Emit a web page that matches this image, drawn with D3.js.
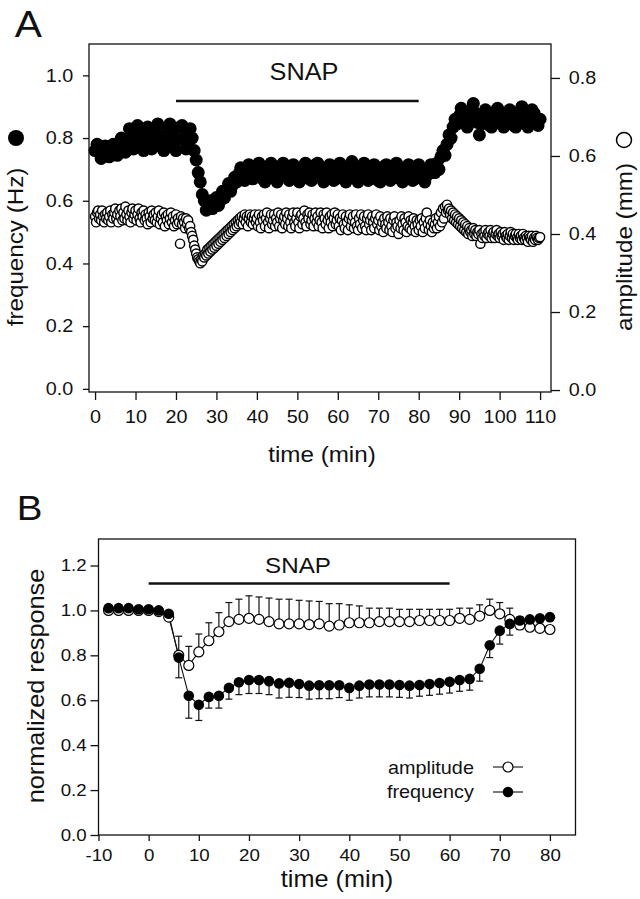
<!DOCTYPE html>
<html>
<head>
<meta charset="utf-8">
<script src="https://cdn.jsdelivr.net/npm/d3@7"></script>
<style>
    body { margin: 0; background: #fff; }
    svg text {
        font-family: "Liberation Sans", Arial, Helvetica, sans-serif;
        fill: #111;
        transform-box: fill-box;
        transform-origin: center;
        transform: scaleX(1.1);
    }
</style>
</head>
<body>
<script>
// ---- panel A: raw recording ----
// frequency read every half minute, amplitude every quarter minute
const stepFreqA = 0.5;
const freqA = [
    0.76, 0.78, 0.755, 0.735, 0.75, 0.775, 0.76, 0.74, 0.755, 0.78,
    0.765, 0.745, 0.77, 0.80, 0.78, 0.755, 0.79, 0.83, 0.80, 0.765,
    0.80, 0.84, 0.815, 0.775, 0.76, 0.795, 0.835, 0.80, 0.765, 0.785,
    0.82, 0.845, 0.805, 0.77, 0.76, 0.79, 0.83, 0.845, 0.81, 0.77,
    0.76, 0.795, 0.835, 0.84, 0.80, 0.765, 0.79, 0.83, 0.80, 0.76,
    0.73, 0.69, 0.66, 0.62, 0.60, 0.57, 0.585, 0.60, 0.575, 0.595,
    0.61, 0.585, 0.60, 0.63, 0.61, 0.635, 0.655, 0.63, 0.65, 0.675,
    0.66, 0.685, 0.705, 0.68, 0.665, 0.69, 0.715, 0.695, 0.67, 0.685,
    0.71, 0.72, 0.695, 0.67, 0.66, 0.685, 0.71, 0.72, 0.70, 0.675,
    0.66, 0.68, 0.705, 0.72, 0.70, 0.675, 0.665, 0.69, 0.715, 0.70,
    0.67, 0.66, 0.685, 0.71, 0.72, 0.695, 0.67, 0.665, 0.69, 0.715,
    0.72, 0.70, 0.675, 0.66, 0.68, 0.705, 0.715, 0.69, 0.665, 0.67,
    0.695, 0.72, 0.71, 0.68, 0.66, 0.675, 0.70, 0.725, 0.705, 0.675,
    0.66, 0.685, 0.71, 0.72, 0.695, 0.665, 0.67, 0.70, 0.715, 0.69,
    0.665, 0.66, 0.685, 0.71, 0.715, 0.69, 0.665, 0.675, 0.70, 0.72,
    0.70, 0.67, 0.66, 0.68, 0.705, 0.715, 0.69, 0.665, 0.67, 0.695,
    0.715, 0.70, 0.675, 0.66, 0.68, 0.705, 0.715, 0.69, 0.69, 0.72,
    0.70, 0.74, 0.76, 0.745, 0.78, 0.81, 0.80, 0.835, 0.86, 0.845,
    0.87, 0.895, 0.88, 0.85, 0.835, 0.86, 0.89, 0.91, 0.88, 0.85,
    0.81, 0.845, 0.875, 0.89, 0.87, 0.84, 0.835, 0.86, 0.885, 0.895,
    0.87, 0.845, 0.835, 0.855, 0.88, 0.89, 0.865, 0.84, 0.835, 0.86,
    0.885, 0.90, 0.875, 0.845, 0.835, 0.86, 0.89, 0.88, 0.85, 0.84,
    0.86
];
const stepAmpA = 0.25;
const ampA = [
    0.445, 0.43, 0.455, 0.46, 0.44, 0.45, 0.435, 0.46, 0.445, 0.43, 0.45, 0.44, 0.455, 0.435, 0.445, 0.46, 0.43, 0.45, 0.44, 0.455,
    0.465, 0.44, 0.45, 0.43, 0.46, 0.445, 0.465, 0.435, 0.455, 0.44, 0.47, 0.45, 0.435, 0.46, 0.445, 0.43, 0.455, 0.465, 0.44, 0.45,
    0.46, 0.435, 0.45, 0.465, 0.44, 0.43, 0.455, 0.445, 0.46, 0.435, 0.45, 0.44, 0.425, 0.455, 0.445, 0.43, 0.46, 0.44, 0.45, 0.435,
    0.455, 0.43, 0.445, 0.46, 0.425, 0.44, 0.45, 0.43, 0.455, 0.42, 0.445, 0.435, 0.45, 0.425, 0.44, 0.455, 0.43, 0.445, 0.42, 0.435,
    0.45, 0.425, 0.44, 0.43, 0.375, 0.445, 0.425, 0.44, 0.43, 0.415, 0.44, 0.425, 0.435, 0.415, 0.42, 0.405, 0.395, 0.385, 0.37, 0.36,
    0.35, 0.34, 0.335, 0.33, 0.325, 0.335, 0.33, 0.345, 0.34, 0.35, 0.345, 0.36, 0.35, 0.365, 0.355, 0.37, 0.36, 0.375, 0.365, 0.38,
    0.37, 0.385, 0.375, 0.39, 0.38, 0.395, 0.385, 0.40, 0.39, 0.405, 0.395, 0.41, 0.40, 0.415, 0.405, 0.42, 0.41, 0.425, 0.415, 0.43,
    0.42, 0.435, 0.425, 0.44, 0.43, 0.445, 0.425, 0.44, 0.45, 0.43, 0.445, 0.42, 0.44, 0.45, 0.43, 0.445, 0.425, 0.44, 0.45, 0.43,
    0.44, 0.42, 0.45, 0.43, 0.415, 0.445, 0.435, 0.45, 0.42, 0.44, 0.455, 0.43, 0.415, 0.44, 0.45, 0.425, 0.435, 0.45, 0.42, 0.44,
    0.43, 0.455, 0.42, 0.44, 0.45, 0.415, 0.435, 0.445, 0.425, 0.455, 0.44, 0.42, 0.45, 0.43, 0.415, 0.445, 0.455, 0.43, 0.42, 0.44,
    0.455, 0.43, 0.415, 0.445, 0.45, 0.425, 0.44, 0.46, 0.43, 0.42, 0.45, 0.44, 0.455, 0.425, 0.435, 0.45, 0.42, 0.44, 0.455, 0.43,
    0.445, 0.42, 0.435, 0.455, 0.43, 0.415, 0.45, 0.44, 0.425, 0.455, 0.435, 0.415, 0.445, 0.43, 0.45, 0.42, 0.44, 0.455, 0.425, 0.435,
    0.45, 0.42, 0.44, 0.41, 0.435, 0.45, 0.425, 0.415, 0.445, 0.43, 0.41, 0.44, 0.45, 0.42, 0.435, 0.445, 0.415, 0.43, 0.45, 0.42,
    0.41, 0.44, 0.425, 0.45, 0.415, 0.435, 0.445, 0.42, 0.41, 0.44, 0.45, 0.425, 0.435, 0.41, 0.445, 0.43, 0.415, 0.44, 0.45, 0.425,
    0.435, 0.41, 0.445, 0.42, 0.43, 0.405, 0.44, 0.425, 0.415, 0.445, 0.43, 0.41, 0.44, 0.42, 0.405, 0.435, 0.445, 0.415, 0.43, 0.42,
    0.40, 0.435, 0.415, 0.445, 0.425, 0.41, 0.44, 0.43, 0.405, 0.42, 0.445, 0.415, 0.435, 0.41, 0.43, 0.44, 0.42, 0.405, 0.435, 0.425,
    0.41, 0.435, 0.42, 0.44, 0.405, 0.43, 0.415, 0.44, 0.455, 0.425, 0.41, 0.435, 0.42, 0.405, 0.43, 0.415, 0.425, 0.44, 0.415, 0.43,
    0.445, 0.42, 0.455, 0.43, 0.465, 0.44, 0.47, 0.455, 0.475, 0.46, 0.465, 0.45, 0.46, 0.44, 0.455, 0.435, 0.45, 0.43, 0.445, 0.425,
    0.44, 0.42, 0.435, 0.415, 0.43, 0.41, 0.425, 0.405, 0.42, 0.40, 0.415, 0.405, 0.41, 0.395, 0.415, 0.40, 0.41, 0.395, 0.405, 0.40,
    0.41, 0.375, 0.40, 0.39, 0.405, 0.395, 0.41, 0.39, 0.40, 0.405, 0.395, 0.41, 0.39, 0.40, 0.405, 0.39, 0.40, 0.41, 0.395, 0.40,
    0.39, 0.405, 0.395, 0.40, 0.385, 0.405, 0.395, 0.39, 0.40, 0.385, 0.395, 0.405, 0.39, 0.40, 0.385, 0.395, 0.40, 0.39, 0.385, 0.40,
    0.39, 0.395, 0.385, 0.40, 0.39, 0.385, 0.395, 0.39, 0.38, 0.395, 0.39, 0.385, 0.395, 0.38, 0.39, 0.385, 0.395, 0.39, 0.385, 0.39,
    0.392
];
const xTicksA = [0, 10, 20, 30, 40, 50, 60, 70, 80, 90, 100, 110];
const freqTicksA = [0, 0.2, 0.4, 0.6, 0.8, 1.0];
const ampTicksA = [0, 0.2, 0.4, 0.6, 0.8];
const snapA = [20, 80], snapLevelA = 0.918;

// ---- panel B: normalized means +/- SEM ----
const timeB = [-8, -6, -4, -2, 0, 2, 4, 6, 8, 10, 12, 14, 16, 18, 20, 22, 24, 26, 28, 30,
    32, 34, 36, 38, 40, 42, 44, 46, 48, 50, 52, 54, 56, 58, 60, 62, 64, 66, 68, 70,
    72, 74, 76, 78, 80];
const freqB = [1.01, 1.01, 1.01, 1.005, 1.005, 1.0, 0.985, 0.79, 0.62, 0.58, 0.615, 0.62,
    0.655, 0.68, 0.69, 0.69, 0.685, 0.675, 0.678, 0.672, 0.665, 0.667, 0.667, 0.667,
    0.655, 0.665, 0.67, 0.67, 0.67, 0.668, 0.665, 0.668, 0.672, 0.677, 0.682, 0.69,
    0.695, 0.74, 0.845, 0.91, 0.94, 0.955, 0.96, 0.965, 0.97];
const freqErrB = [0.01, 0.01, 0.01, 0.01, 0.01, 0.01, 0.015, 0.09, 0.10, 0.07, 0.05, 0.055,
    0.05, 0.055, 0.06, 0.06, 0.06, 0.065, 0.065, 0.06, 0.06, 0.06, 0.06, 0.055,
    0.055, 0.055, 0.055, 0.055, 0.055, 0.055, 0.055, 0.05, 0.05, 0.05, 0.05, 0.05,
    0.05, 0.055, 0.055, 0.06, 0.05, 0.04, 0.03, 0.02, 0.015];
const ampB = [1.0, 1.0, 1.0, 1.0, 1.0, 0.995, 0.97, 0.80, 0.755, 0.815, 0.865, 0.905,
    0.95, 0.96, 0.965, 0.96, 0.95, 0.94, 0.94, 0.94, 0.937, 0.94, 0.93, 0.935,
    0.945, 0.945, 0.945, 0.95, 0.95, 0.95, 0.95, 0.955, 0.955, 0.955, 0.955, 0.965,
    0.96, 0.975, 1.0, 0.985, 0.96, 0.935, 0.925, 0.92, 0.915];
const ampErrB = [0, 0, 0, 0, 0, 0, 0.01, 0.085, 0.085, 0.08, 0.08, 0.085,
    0.085, 0.09, 0.10, 0.10, 0.105, 0.11, 0.11, 0.105, 0.105, 0.10, 0.10, 0.095,
    0.08, 0.075, 0.065, 0.06, 0.06, 0.055, 0.055, 0.05, 0.05, 0.05, 0.05, 0.045,
    0.05, 0.05, 0.05, 0.05, 0.05, 0.035, 0.02, 0.015, 0.01];
const xTicksB = [-10, 0, 10, 20, 30, 40, 50, 60, 70, 80];
const yTicksB = [0, 0.2, 0.4, 0.6, 0.8, 1.0, 1.2];
const snapB = [0, 60], snapLevelB = 1.12;

const svg = d3.select('body').append('svg')
    .attr('width', 640)
    .attr('height', 899);

function styleAxis(g, size) {
    g.attr('font-family', null).attr('font-size', size);
    g.select('.domain').remove();
    g.selectAll('line').attr('stroke', '#111').attr('stroke-width', 1.3);
    g.selectAll('text').attr('fill', '#111');
}

// =============== A ===============
const boxA = {left: 89, right: 551, top: 44, bottom: 392};
const xA = d3.scaleLinear().domain([-1.5, 112.7]).range([boxA.left, boxA.right]);
const yFreqA = d3.scaleLinear().domain([-0.01, 1.1]).range([boxA.bottom, boxA.top]);
const yAmpA = d3.scaleLinear().domain([-0.005, 0.887]).range([boxA.bottom, boxA.top]);

const gA = svg.append('g');

gA.append('text').attr('x', 16).attr('y', 37).attr('font-size', 37).text('A');

gA.append('g')
    .attr('transform', 'translate(0,' + boxA.bottom + ')')
    .call(d3.axisBottom(xA).tickValues(xTicksA).tickSize(8).tickPadding(10)
        .tickFormat(function (d) { return String(d); }))
    .call(styleAxis, 18);

gA.append('g')
    .attr('transform', 'translate(' + boxA.left + ',0)')
    .call(d3.axisLeft(yFreqA).tickValues(freqTicksA).tickSize(6).tickPadding(11)
        .tickFormat(d3.format('.1f')))
    .call(styleAxis, 18);

gA.append('g')
    .attr('transform', 'translate(' + boxA.right + ',0)')
    .call(d3.axisRight(yAmpA).tickValues(ampTicksA).tickSize(9).tickPadding(10)
        .tickFormat(d3.format('.1f')))
    .call(styleAxis, 18);

gA.append('rect')
    .attr('x', boxA.left).attr('y', boxA.top)
    .attr('width', boxA.right - boxA.left).attr('height', boxA.bottom - boxA.top)
    .attr('fill', 'none').attr('stroke', '#111').attr('stroke-width', 1.3);

gA.append('line')
    .attr('x1', xA(snapA[0])).attr('x2', xA(snapA[1]))
    .attr('y1', yFreqA(snapLevelA)).attr('y2', yFreqA(snapLevelA))
    .attr('stroke', '#111').attr('stroke-width', 2.6);
gA.append('text').attr('x', 304).attr('y', 80).attr('text-anchor', 'middle')
    .attr('font-size', 23).text('SNAP');

gA.append('g').selectAll('circle')
    .data(freqA)
    .enter().append('circle')
    .attr('cx', function (d, i) { return xA(i * stepFreqA); })
    .attr('cy', function (d) { return yFreqA(d); })
    .attr('r', 6.5)
    .attr('fill', '#000');

gA.append('g').selectAll('circle')
    .data(ampA)
    .enter().append('circle')
    .attr('cx', function (d, i) { return xA(i * stepAmpA); })
    .attr('cy', function (d) { return yAmpA(d); })
    .attr('r', 4.6)
    .attr('fill', '#fff')
    .attr('stroke', '#000')
    .attr('stroke-width', 1.45);

gA.append('g').attr('transform', 'translate(23,247) rotate(-90)')
    .append('text').attr('text-anchor', 'middle').attr('font-size', 22).text('frequency (Hz)');
gA.append('circle').attr('cx', 16).attr('cy', 138).attr('r', 8).attr('fill', '#000');

gA.append('g').attr('transform', 'translate(632,247) rotate(-90)')
    .append('text').attr('text-anchor', 'middle').attr('font-size', 22).text('amplitude (mm)');
gA.append('circle').attr('cx', 624).attr('cy', 140).attr('r', 7.5)
    .attr('fill', '#fff').attr('stroke', '#000').attr('stroke-width', 1.5);

gA.append('text').attr('x', 322).attr('y', 462).attr('text-anchor', 'middle')
    .attr('font-size', 22).text('time (min)');

// =============== B ===============
const boxB = {left: 98.5, right: 575.5, top: 539, bottom: 835};
const xB = d3.scaleLinear().domain([-10, 85.1]).range([boxB.left, boxB.right]);
const yB = d3.scaleLinear().domain([0, 1.318]).range([boxB.bottom, boxB.top]);

const gB = svg.append('g');

gB.append('text').attr('x', 18).attr('y', 520).attr('font-size', 35).text('B');

gB.append('g')
    .attr('transform', 'translate(0,' + boxB.bottom + ')')
    .call(d3.axisBottom(xB).tickValues(xTicksB).tickSize(6).tickPadding(8)
        .tickFormat(function (d) { return String(d); }))
    .call(styleAxis, 17);

gB.append('g')
    .attr('transform', 'translate(' + boxB.left + ',0)')
    .call(d3.axisLeft(yB).tickValues(yTicksB).tickSize(8).tickPadding(5)
        .tickFormat(d3.format('.1f')))
    .call(styleAxis, 17);

gB.append('rect')
    .attr('x', boxB.left).attr('y', boxB.top)
    .attr('width', boxB.right - boxB.left).attr('height', boxB.bottom - boxB.top)
    .attr('fill', 'none').attr('stroke', '#111').attr('stroke-width', 1.3);

gB.append('line')
    .attr('x1', xB(snapB[0])).attr('x2', xB(snapB[1]))
    .attr('y1', yB(snapLevelB)).attr('y2', yB(snapLevelB))
    .attr('stroke', '#111').attr('stroke-width', 2.6);
gB.append('text').attr('x', 298).attr('y', 573).attr('text-anchor', 'middle')
    .attr('font-size', 22).text('SNAP');

const rowsB = timeB.map(function (t, i) {
    return {t: t, freq: freqB[i], freqErr: freqErrB[i], amp: ampB[i], ampErr: ampErrB[i]};
});

const lineAmp = d3.line().x(function (d) { return xB(d.t); }).y(function (d) { return yB(d.amp); });
const lineFreq = d3.line().x(function (d) { return xB(d.t); }).y(function (d) { return yB(d.freq); });

gB.append('path').datum(rowsB).attr('d', lineAmp)
    .attr('fill', 'none').attr('stroke', '#111').attr('stroke-width', 1.1);
gB.append('path').datum(rowsB).attr('d', lineFreq)
    .attr('fill', 'none').attr('stroke', '#111').attr('stroke-width', 1.1);

// error bars: amplitude upward, frequency downward
function errorBars(key, errKey, sign) {
    const g = gB.append('g').attr('stroke', '#111').attr('stroke-width', 1.2);
    const rows = rowsB.filter(function (d) { return d[errKey] > 0; });
    g.selectAll('.stem').data(rows).enter().append('line')
        .attr('x1', function (d) { return xB(d.t); })
        .attr('x2', function (d) { return xB(d.t); })
        .attr('y1', function (d) { return yB(d[key]); })
        .attr('y2', function (d) { return yB(d[key] + sign * d[errKey]); });
    g.selectAll('.cap').data(rows).enter().append('line')
        .attr('x1', function (d) { return xB(d.t) - 3.5; })
        .attr('x2', function (d) { return xB(d.t) + 3.5; })
        .attr('y1', function (d) { return yB(d[key] + sign * d[errKey]); })
        .attr('y2', function (d) { return yB(d[key] + sign * d[errKey]); });
}
errorBars('amp', 'ampErr', 1);
errorBars('freq', 'freqErr', -1);

gB.append('g').selectAll('circle')
    .data(rowsB)
    .enter().append('circle')
    .attr('cx', function (d) { return xB(d.t); })
    .attr('cy', function (d) { return yB(d.amp); })
    .attr('r', 5)
    .attr('fill', '#fff').attr('stroke', '#000').attr('stroke-width', 1.2);

gB.append('g').selectAll('circle')
    .data(rowsB)
    .enter().append('circle')
    .attr('cx', function (d) { return xB(d.t); })
    .attr('cy', function (d) { return yB(d.freq); })
    .attr('r', 5.3)
    .attr('fill', '#000');

// legend
const legend = gB.append('g');
legend.append('text').attr('x', 470).attr('y', 774).attr('text-anchor', 'end')
    .attr('font-size', 18).text('amplitude');
legend.append('text').attr('x', 470).attr('y', 798).attr('text-anchor', 'end')
    .attr('font-size', 18).text('frequency');
legend.append('line').attr('x1', 493).attr('x2', 523).attr('y1', 767).attr('y2', 767)
    .attr('stroke', '#111').attr('stroke-width', 1.1);
legend.append('circle').attr('cx', 508).attr('cy', 767).attr('r', 5)
    .attr('fill', '#fff').attr('stroke', '#000').attr('stroke-width', 1.2);
legend.append('line').attr('x1', 493).attr('x2', 523).attr('y1', 792).attr('y2', 792)
    .attr('stroke', '#111').attr('stroke-width', 1.1);
legend.append('circle').attr('cx', 508).attr('cy', 792).attr('r', 5.3).attr('fill', '#000');

gB.append('g').attr('transform', 'translate(44,686) rotate(-90)')
    .append('text').attr('text-anchor', 'middle').attr('font-size', 23).text('normalized response');

gB.append('text').attr('x', 337).attr('y', 887).attr('text-anchor', 'middle')
    .attr('font-size', 23).text('time (min)');
</script>
</body>
</html>
